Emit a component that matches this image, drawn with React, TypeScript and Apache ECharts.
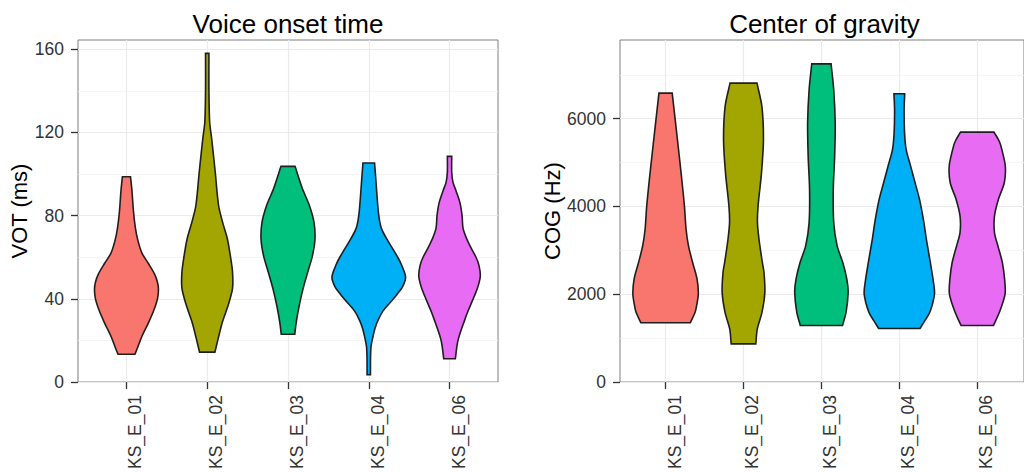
import React, { useEffect, useRef } from "react";
import * as echarts from "echarts";

const speakers = ["KS_E_01", "KS_E_02", "KS_E_03", "KS_E_04", "KS_E_06"];
const fills = ["#F8766D", "#A3A500", "#00BF7D", "#00B0F6", "#E76BF3"];
const categoryTicks = [1, 2, 3, 4, 5];

const votTicks = [0, 40, 80, 120, 160];
const votMinorTicks = [20, 60, 100, 140];
const cogTicks = [0, 2000, 4000, 6000];
const cogMinorTicks = [1000, 3000, 5000, 7000];

// Violin profiles: [value, half width in category units], top to bottom
const vot01 = [[98.7, 0.05], [92, 0.068], [82, 0.087], [74, 0.111], [68, 0.142], [62, 0.192], [57, 0.272], [52, 0.347], [48, 0.384], [44.5, 0.396], [40, 0.384], [34, 0.334], [28, 0.266], [22, 0.192], [17, 0.142], [13.4, 0.105]];
const vot02 = [[158, 0.021], [141, 0.021], [125, 0.03], [117, 0.055], [101, 0.099], [85, 0.14], [77, 0.189], [69, 0.248], [61, 0.285], [53, 0.313], [45, 0.313], [37, 0.26], [29, 0.189], [21, 0.136], [14.4, 0.095]];
const vot03 = [[103.7, 0.087], [92.8, 0.18], [84.8, 0.266], [76.8, 0.322], [68.8, 0.334], [60.8, 0.303], [52.8, 0.244], [44.8, 0.186], [36.8, 0.139], [28.8, 0.102], [23, 0.084]];
const vot04 = [[105.3, 0.072], [97.6, 0.087], [88, 0.105], [80, 0.124], [74, 0.155], [68.8, 0.223], [64, 0.297], [60, 0.359], [56, 0.409], [50.5, 0.456], [46, 0.421], [42, 0.347], [38, 0.26], [34, 0.173], [30, 0.118], [26, 0.078], [21, 0.047], [17, 0.028], [12, 0.022], [3.5, 0.021]];
const vot06 = [[108.5, 0.027], [101, 0.027], [96, 0.043], [92, 0.08], [86, 0.13], [80, 0.155], [74, 0.167], [69, 0.211], [65, 0.26], [60, 0.328], [56, 0.365], [51, 0.381], [46, 0.353], [41.6, 0.31], [37, 0.26], [33.6, 0.223], [29, 0.18], [25.6, 0.149], [21, 0.111], [17.6, 0.093], [11.2, 0.072]];

const cog01 = [[6583, 0.085], [6129, 0.114], [5523, 0.152], [4767, 0.199], [4009, 0.242], [3482, 0.263], [3101, 0.294], [2724, 0.347], [2346, 0.404], [2005, 0.42], [1739, 0.398], [1589, 0.379], [1350, 0.316]];
const cog02 = [[6810, 0.173], [6279, 0.236], [5523, 0.256], [4767, 0.231], [4009, 0.187], [3632, 0.179], [3253, 0.199], [2724, 0.242], [2497, 0.263], [2043, 0.274], [1589, 0.237], [1210, 0.177], [869, 0.158]];
const cog03 = [[7249, 0.124], [6658, 0.158], [5902, 0.177], [5144, 0.17], [4388, 0.152], [3632, 0.158], [3101, 0.202], [2724, 0.274], [2346, 0.326], [2043, 0.343], [1589, 0.316], [1290, 0.271]];
const cog04 = [[6570, 0.069], [6200, 0.061], [5675, 0.067], [5296, 0.088], [4917, 0.145], [4540, 0.202], [4161, 0.259], [3700, 0.309], [3253, 0.347], [2724, 0.398], [2300, 0.436], [2005, 0.451], [1589, 0.391], [1400, 0.328], [1220, 0.265]];
const cog06 = [[5695, 0.215], [5480, 0.284], [5296, 0.316], [4917, 0.36], [4540, 0.347], [4161, 0.271], [3782, 0.221], [3405, 0.221], [3101, 0.265], [2724, 0.322], [2346, 0.351], [2005, 0.357], [1589, 0.284], [1290, 0.208]];

const votProfiles = [vot01, vot02, vot03, vot04, vot06];
const cogProfiles = [cog01, cog02, cog03, cog04, cog06];

const FONT = "'Liberation Sans', Arial, Helvetica, sans-serif";

function violinSeries(profiles: number[][][], xAxisIndex: number, yAxisIndex: number) {
  return {
    type: "custom",
    xAxisIndex,
    yAxisIndex,
    data: speakers.map((_, i) => [i + 1, 0]),
    encode: { x: 0, y: 1 },
    renderItem: (params: any, api: any) => {
      const i = params.dataIndex;
      const prof = profiles[i];
      const cx = categoryTicks[i];
      const n = prof.length;
      const pts: number[][] = [];
      // right side, top to bottom (corners doubled to keep them sharp)
      for (let k = 0; k < n; k++) {
        const [v, hw] = prof[k];
        const p = api.coord([cx + hw, v]);
        pts.push(p);
        if (k === 0 || k === n - 1) pts.push(p.slice());
      }
      // left side, bottom to top
      for (let k = n - 1; k >= 0; k--) {
        const [v, hw] = prof[k];
        const p = api.coord([cx - hw, v]);
        pts.push(p);
        if (k === 0 || k === n - 1) pts.push(p.slice());
      }
      return {
        type: "polygon",
        shape: { points: pts, smooth: 0.3 },
        style: { fill: fills[i], stroke: "#1f1f1f", lineWidth: 1.6 },
      };
    },
  };
}

function xAxis(gridIndex: number, min: number) {
  return {
    type: "value",
    gridIndex,
    min,
    max: 5.6,
    axisLine: { show: false },
    axisTick: { show: true, length: 7, customValues: categoryTicks, lineStyle: { color: "#333333", width: 1.3 } },
    axisLabel: {
      customValues: categoryTicks,
      formatter: (v: number) => speakers[Math.round(v) - 1],
      rotate: 90,
      verticalAlign: "top",
      margin: 13,
      fontSize: 17.5,
      color: "#333333",
      fontFamily: FONT,
    },
    splitLine: { show: true, lineStyle: { color: "#ebebeb", width: 1.2 } },
  };
}

function yAxisMajor(gridIndex: number, max: number, ticks: number[], name: string, nameGap: number) {
  return {
    type: "value",
    gridIndex,
    position: "left",
    min: 0,
    max,
    name,
    nameLocation: "middle",
    nameGap,
    nameTextStyle: { fontSize: 22, color: "#000000", fontFamily: FONT },
    axisLine: { show: false },
    axisTick: { show: true, length: 7, customValues: ticks, lineStyle: { color: "#333333", width: 1.3 } },
    axisLabel: {
      customValues: ticks,
      formatter: (v: number) => String(v),
      margin: 14,
      fontSize: 17.5,
      color: "#333333",
      fontFamily: FONT,
    },
    splitLine: { show: true, lineStyle: { color: "#ebebeb", width: 1.2 } },
  };
}

function yAxisMinor(gridIndex: number, max: number, ticks: number[]) {
  return {
    type: "value",
    gridIndex,
    position: "left",
    min: 0,
    max,
    axisLine: { show: false },
    axisTick: { show: false, customValues: ticks },
    axisLabel: { show: false },
    splitLine: { show: true, lineStyle: { color: "#f3f3f3", width: 0.8 } },
  };
}

export default function App() {
  const ref = useRef<HTMLDivElement>(null);
  useEffect(() => {
    if (!ref.current) return;
    const chart = echarts.init(ref.current, undefined, { renderer: "svg" });
    chart.setOption({
      animation: false,
      backgroundColor: "#ffffff",
      textStyle: { fontFamily: FONT },
      grid: [
        { left: 78, top: 40, width: 420, height: 343.3, show: true, borderColor: "#7f7f7f", borderWidth: 1, backgroundColor: "#ffffff", containLabel: false },
        { left: 620, top: 40, width: 410.6, height: 343.3, show: true, borderColor: "#7f7f7f", borderWidth: 1, backgroundColor: "#ffffff", containLabel: false },
      ],
      xAxis: [xAxis(0, 0.4), xAxis(1, 0.415)],
      yAxis: [
        yAxisMajor(0, 164.45, votTicks, "VOT (ms)", 45),
        yAxisMinor(0, 164.45, votMinorTicks),
        yAxisMajor(1, 7793, cogTicks, "COG (Hz)", 55),
        yAxisMinor(1, 7793, cogMinorTicks),
      ],
      graphic: [
        { type: "text", x: 288, y: 24, style: { text: "Voice onset time", fontSize: 26, fontFamily: FONT, fill: "#000000", align: "center", verticalAlign: "middle" } },
        { type: "text", x: 824.5, y: 24, style: { text: "Center of gravity", fontSize: 26, fontFamily: FONT, fill: "#000000", align: "center", verticalAlign: "middle" } },
      ],
      series: [violinSeries(votProfiles, 0, 0), violinSeries(cogProfiles, 1, 2)],
    });
    return () => chart.dispose();
  }, []);
  return <div ref={ref} style={{ position: "fixed", left: 0, top: 0, width: 1024, height: 472 }} />;
}
